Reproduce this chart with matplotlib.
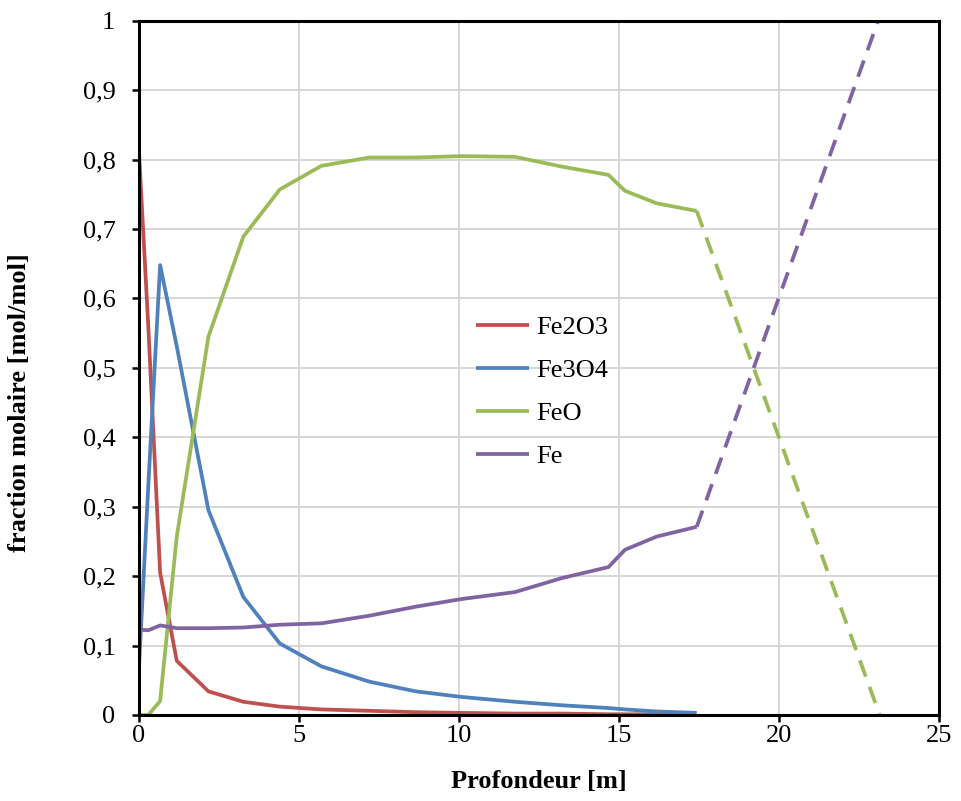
import matplotlib
matplotlib.use("Agg")
import matplotlib.pyplot as plt
from matplotlib.ticker import FixedLocator, FuncFormatter

plt.rcParams['font.family'] = ['Liberation Serif', 'DejaVu Serif']

# Depth profile (m) and molar fractions
depth = [0, 0.29, 0.66, 1.18, 2.17, 3.26, 4.4, 5.7, 7.2, 8.65, 10.08, 11.75,
         13.2, 14.67, 15.19, 16.18, 17.43]
fe2o3 = [0.81, 0.56, 0.205, 0.078, 0.034, 0.019, 0.012, 0.008, 0.006, 0.004,
         0.003, 0.002, 0.002, 0.001, 0.001, 0.001, 0.0]
fe3o4 = [0.07, 0.33, 0.648, 0.531, 0.295, 0.17, 0.103, 0.07, 0.048, 0.034,
         0.026, 0.019, 0.014, 0.010, 0.008, 0.005, 0.003]
feo = [0.0, 0.0, 0.02, 0.257, 0.545, 0.689, 0.757, 0.791, 0.803, 0.803,
       0.805, 0.804, 0.79, 0.778, 0.755, 0.737, 0.726]
fe = [0.123, 0.122, 0.129, 0.125, 0.125, 0.126, 0.13, 0.132, 0.143, 0.156,
      0.167, 0.177, 0.197, 0.213, 0.238, 0.257, 0.271]

# Extrapolated trends beyond the last computed depth
feo_ext_depth = [17.43, 23.15]
feo_ext = [0.726, 0.0]
fe_ext_depth = [17.43, 23.1]
fe_ext = [0.271, 1.0]

series_names = ['Fe2O3', 'Fe3O4', 'FeO', 'Fe']
colors = ['#c0504d', '#4f81bd', '#9bbb59', '#8064a2']

x_ticks = [0, 5, 10, 15, 20, 25]
y_ticks = [0, 0.1, 0.2, 0.3, 0.4, 0.5, 0.6, 0.7, 0.8, 0.9, 1.0]

FS = 19

fig = plt.figure(figsize=(9.62, 8.01), dpi=100)
ax = fig.add_axes([0.1445, 0.1074, 0.8315, 0.8667])

lw = 2.7
for name, vals, c in zip(series_names, [fe2o3, fe3o4, feo, fe], colors):
    ax.plot(depth, vals, color=c, lw=lw, label=name, solid_capstyle='butt')

ax.plot(feo_ext_depth, feo_ext, color=colors[2], lw=lw, dashes=(4.6, 2.9))
ax.plot(fe_ext_depth, fe_ext, color=colors[3], lw=lw, dashes=(4.6, 2.9))

ax.set_xlim(0, 25)
ax.set_ylim(0, 1)
ax.xaxis.set_major_locator(FixedLocator(x_ticks))
ax.yaxis.set_major_locator(FixedLocator(y_ticks))


def comma_fmt(v, pos):
    if abs(v - round(v)) < 1e-9:
        return f"{int(round(v))}"
    return f"{v:.1f}".replace('.', ',')


ax.yaxis.set_major_formatter(FuncFormatter(comma_fmt))
ax.xaxis.set_major_formatter(FuncFormatter(comma_fmt))

ax.grid(True, color='#d4d4d4', lw=1.3)
ax.set_axisbelow(True)
for sp in ax.spines.values():
    sp.set_color('black')
    sp.set_linewidth(2.2)
ax.tick_params(axis='both', direction='out', length=5, width=1.8,
               labelsize=FS, colors='black')
ax.tick_params(axis='y', pad=12)
ax.tick_params(axis='x', pad=2)

ax.set_xlabel('Profondeur [m]', fontsize=FS, fontweight='bold')
ax.set_ylabel('fraction molaire [mol/mol]', fontsize=FS, fontweight='bold')
ax.xaxis.set_label_coords(0.5, -0.0965)
ax.xaxis.label.set_va('center')
ax.yaxis.set_label_coords(-0.149, 0.45)
ax.yaxis.label.set_va('center')

leg = ax.legend(loc='upper left', bbox_to_anchor=(476 / 962, 1 - 316 / 801),
                bbox_transform=fig.transFigure, frameon=False, fontsize=FS,
                handlelength=2.0, handletextpad=0.27, labelspacing=0.74,
                borderaxespad=0, borderpad=0)
for h in leg.get_lines():
    h.set_linewidth(2.7)

fig.savefig('out.png', dpi=100)
